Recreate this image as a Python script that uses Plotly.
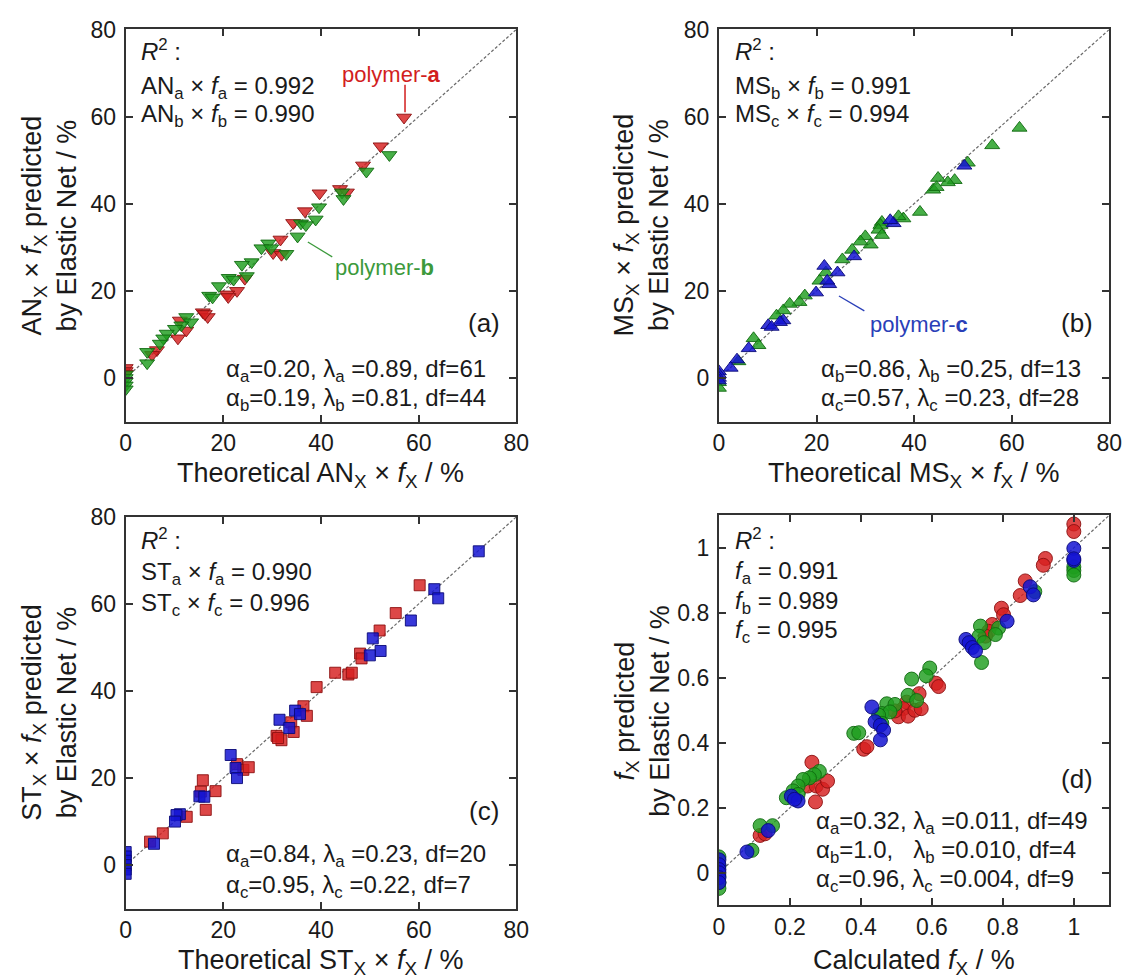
import plotly.graph_objects as go

W, H = 1141, 980

# ---------------- data ----------------
# (a) AN x f
AN_a_x = [57.0, 52.2, 48.6, 43.9, 45.3, 39.7, 36.7, 34.3, 31.7, 30.2, 31.9, 24.4, 22.8, 20.8, 21.0, 15.8, 16.8, 16.2, 11.1, 12.4, 10.7, 6.4, 5.4, 0, 0, 0]
AN_a_y = [59.8, 53.2, 48.8, 43.4, 42.6, 42.4, 38.3, 35.6, 31.8, 28.7, 28.3, 22.8, 20.0, 19.2, 18.6, 15.1, 14.0, 14.7, 13.2, 10.9, 9.1, 6.4, 5.3, 2.3, 1.6, 1.0]
AN_b_x = [54.0, 49.3, 44.3, 44.6, 39.6, 38.9, 35.9, 36.9, 35.2, 32.9, 29.2, 27.8, 29.8, 25.8, 23.8, 24.8, 21.1, 22.1, 19.1, 17.1, 17.8, 12.4, 13.4, 11.4, 10.1, 8.4, 7.7, 7.0, 4.4, 4.4, 0, 0, 0, 0, 0]
AN_b_y = [51.2, 47.4, 42.6, 41.1, 39.2, 36.4, 35.5, 35.1, 32.5, 28.5, 30.9, 29.8, 29.8, 26.6, 26.0, 23.4, 23.0, 22.6, 21.1, 18.9, 18.5, 14.0, 12.8, 12.1, 11.3, 10.2, 9.1, 7.9, 6.0, 3.4, 0.8, 0.0, -0.8, -1.7, -2.6]

# (b) MS x f
MS_b_x = [61.6, 56.0, 51.0, 48.3, 46.9, 44.9, 43.9, 44.6, 41.2, 37.8, 36.8, 33.4, 33.1, 32.7, 33.4, 30.0, 31.1, 29.0, 27.3, 25.3, 21.9, 20.6, 17.6, 16.5, 14.5, 13.2, 11.8, 7.1, 8.1, 4.0, 0, 0]
MS_b_y = [57.4, 53.4, 49.4, 45.4, 44.9, 45.9, 43.2, 43.8, 38.1, 36.6, 37.1, 35.8, 35.1, 34.0, 32.8, 32.5, 30.6, 31.3, 29.4, 27.2, 24.2, 22.3, 18.9, 17.4, 17.0, 15.5, 14.3, 9.1, 7.5, 3.8, -1.0, -2.3]
MS_c_x = [50.3, 35.8, 35.1, 27.7, 24.3, 21.6, 22.6, 22.2, 19.9, 13.2, 12.5, 10.1, 10.8, 6.1, 3.7, 2.4, 0, 0, 0, 0]
MS_c_y = [48.7, 35.5, 36.2, 27.9, 24.2, 25.7, 21.5, 22.3, 19.6, 13.2, 12.8, 12.1, 11.7, 6.8, 4.2, 2.3, 1.5, 0.8, 0.0, -0.6]

# (c) ST x f
ST_a_x = [60.2, 55.3, 52.0, 48.0, 48.3, 42.9, 45.6, 46.3, 39.1, 36.4, 37.1, 33.9, 34.4, 30.9, 31.9, 31.2, 22.8, 24.1, 25.2, 15.8, 15.4, 18.4, 16.4, 12.5, 7.6, 5.0]
ST_a_y = [64.3, 57.9, 53.9, 48.6, 47.5, 44.2, 43.8, 44.2, 40.9, 36.5, 34.3, 32.8, 30.6, 29.7, 28.7, 29.2, 23.2, 21.9, 22.5, 19.5, 16.9, 17.0, 12.7, 11.1, 7.3, 5.4]
ST_c_x = [72.3, 63.2, 64.0, 58.4, 50.6, 52.2, 50.0, 34.7, 35.7, 31.5, 33.5, 21.5, 22.5, 22.8, 15.1, 16.1, 11.1, 10.4, 10.1, 5.8, 0, 0, 0, 0, 0, 0]
ST_c_y = [72.1, 63.4, 61.3, 56.2, 52.1, 49.2, 48.2, 35.5, 34.7, 33.4, 31.5, 25.3, 22.3, 20.0, 15.8, 15.7, 11.7, 11.5, 10.0, 4.9, 3.0, 2.0, 1.0, 0.0, -1.0, -2.0]

# (d) f
F_a_x = [1, 1, 0.92, 0.914, 0.863, 0.849, 0.796, 0.802, 0.77, 0.76, 0.751, 0.612, 0.619, 0.564, 0.529, 0.519, 0.506, 0.533, 0.496, 0.552, 0.57, 0.408, 0.417, 0.262, 0.25, 0.274, 0.292, 0.306, 0.272, 0.116, 0.13]
F_a_y = [1.073, 1.05, 0.967, 0.946, 0.898, 0.853, 0.814, 0.794, 0.764, 0.743, 0.728, 0.583, 0.573, 0.551, 0.525, 0.505, 0.48, 0.482, 0.498, 0.5, 0.505, 0.38, 0.388, 0.34, 0.267, 0.267, 0.257, 0.282, 0.218, 0.115, 0.12]
F_b_x = [1, 1, 1, 0.89, 0.788, 0.779, 0.737, 0.733, 0.747, 0.74, 0.594, 0.584, 0.543, 0.533, 0.557, 0.473, 0.496, 0.459, 0.482, 0.45, 0.459, 0.38, 0.394, 0.283, 0.269, 0.255, 0.237, 0.223, 0.209, 0.19, 0.223, 0.151, 0.116, 0.093, 0, 0, 0, 0, 0]
F_b_y = [0.941, 0.93, 0.916, 0.865, 0.753, 0.733, 0.759, 0.728, 0.708, 0.647, 0.63, 0.606, 0.596, 0.546, 0.53, 0.52, 0.518, 0.49, 0.495, 0.485, 0.46, 0.429, 0.431, 0.312, 0.302, 0.292, 0.287, 0.267, 0.252, 0.231, 0.241, 0.145, 0.145, 0.069, 0.049, 0.02, -0.01, -0.03, -0.048]
F_c_x = [1, 1, 1, 0.877, 0.886, 0.812, 0.696, 0.705, 0.714, 0.723, 0.431, 0.44, 0.455, 0.464, 0.455, 0.204, 0.223, 0.213, 0.139, 0.079, 0, 0, 0, 0, 0, 0]
F_c_y = [0.998, 0.961, 0.966, 0.88, 0.855, 0.774, 0.718, 0.708, 0.693, 0.683, 0.51, 0.465, 0.454, 0.439, 0.409, 0.236, 0.221, 0.226, 0.13, 0.064, 0.04, 0.025, 0.01, 0.0, -0.015, -0.03]

DIAG_PCT = [0, 80]
DIAG_FRAC = [0, 1.1]
TICKS_PCT = [0, 20, 40, 60, 80]
TICKS_FRAC = [0, 0.2, 0.4, 0.6, 0.8, 1]

# ---------------- style ----------------
FONT = "Liberation Sans, Arial, sans-serif"
RED = dict(color="rgba(214,30,30,0.82)", line=dict(color="rgba(140,15,15,0.9)", width=1))
GREEN = dict(color="rgba(30,158,30,0.82)", line=dict(color="rgba(15,105,15,0.9)", width=1))
BLUE = dict(color="rgba(20,20,210,0.85)", line=dict(color="rgba(10,10,120,0.9)", width=1))


def px2paper(px, py):
    return px / W, 1 - py / H


# panel rectangles in pixels (x0, y0, x1, y1)
PANELS = {
    "": (121.7, 16.7, 519.0, 414.0),
    "2": (725.0, 16.7, 1122.0, 414.0),
    "3": (121.7, 510.7, 519.0, 907.7),
    "4": (725.0, 509.0, 1122.0, 904.3),
}

fig = go.Figure()


def diag(ax, vals):
    fig.add_trace(go.Scatter(x=vals, y=vals, mode="lines", xaxis="x" + ax, yaxis="y" + ax,
                             line=dict(color="#6a6a6a", width=1.2, dash="3px,2px"),
                             showlegend=False, hoverinfo="skip"))


def pts(ax, x, y, symbol, size, style):
    fig.add_trace(go.Scatter(x=x, y=y, mode="markers", xaxis="x" + ax, yaxis="y" + ax,
                             marker=dict(symbol=symbol, size=size, **style), showlegend=False))


diag("", DIAG_PCT)
pts("", AN_a_x, AN_a_y, "triangle-down", 13, RED)
pts("", AN_b_x, AN_b_y, "triangle-down", 13, GREEN)

diag("2", DIAG_PCT)
pts("2", MS_b_x, MS_b_y, "triangle-up", 13, GREEN)
pts("2", MS_c_x, MS_c_y, "triangle-up", 13, BLUE)

diag("3", DIAG_PCT)
pts("3", ST_a_x, ST_a_y, "square", 11, RED)
pts("3", ST_c_x, ST_c_y, "square", 11, BLUE)

diag("4", DIAG_FRAC)
pts("4", F_a_x, F_a_y, "circle", 14, RED)
pts("4", F_b_x, F_b_y, "circle", 14, GREEN)
pts("4", F_c_x, F_c_y, "circle", 14, BLUE)

axis_common = dict(showline=True, linecolor="#333", linewidth=2, mirror="ticks",
                   ticks="inside", ticklen=7, tickwidth=1.5, tickcolor="#333",
                   showgrid=False, zeroline=False,
                   tickfont=dict(family=FONT, size=23, color="#1a1a1a"))

layout = {}
for ax, (x0, y0, x1, y1) in PANELS.items():
    xd = [x0 / W, x1 / W]
    yd = [1 - y1 / H, 1 - y0 / H]
    if ax == "4":
        xr, yr, tv = [0, 1.1], [-0.1, 1.1], TICKS_FRAC
    else:
        xr, yr, tv = [0, 80], [-10, 80], TICKS_PCT
    layout["xaxis" + ax] = dict(domain=xd, range=xr, tickvals=tv, anchor="y" + ax, **axis_common)
    layout["yaxis" + ax] = dict(domain=yd, range=yr, tickvals=tv, anchor="x" + ax,
                                ticklabelstandoff=3, **axis_common)

fig.update_layout(**layout)

annotations = []


def txt(px, py, text, size=24, color="#1a1a1a", xanchor="left", angle=0):
    x, y = px2paper(px, py)
    annotations.append(dict(x=x, y=y, xref="paper", yref="paper", text=text, showarrow=False,
                            xanchor=xanchor, yanchor="middle", textangle=angle,
                            font=dict(family=FONT, size=size, color=color)))


R2 = "<i>R</i><sup>2</sup> :"
NB = "\u00a0"

# panel (a)
txt(135, 38, R2)
txt(135, 75, "AN<sub>a</sub> × <i>f</i><sub>a</sub> = 0.992")
txt(135, 104, "AN<sub>b</sub> × <i>f</i><sub>b</sub> = 0.990")
txt(340, 62, "polymer-<b>a</b>", size=22, color="#d21e1e")
txt(333, 258, "polymer-<b>b</b>", size=22, color="#3c9a3c")
txt(504, 314, "(a)", size=26, xanchor="right")
txt(222, 362, "α<sub>a</sub>=0.20, λ<sub>a</sub> =0.89, df=61")
txt(222, 392, "α<sub>b</sub>=0.19, λ<sub>b</sub> =0.81, df=44")

# panel (b)
txt(739, 38, R2)
txt(739, 75, "MS<sub>b</sub> × <i>f</i><sub>b</sub> = 0.991")
txt(739, 104, "MS<sub>c</sub> × <i>f</i><sub>c</sub> = 0.994")
txt(877, 316, "polymer-<b>c</b>", size=22, color="#2a3fb8")
txt(1107, 314, "(b)", size=26, xanchor="right")
txt(827, 362, "α<sub>b</sub>=0.86, λ<sub>b</sub> =0.25, df=13")
txt(827, 392, "α<sub>c</sub>=0.57, λ<sub>c</sub> =0.23, df=28")

# panel (c)
txt(135, 533, R2)
txt(135, 568, "ST<sub>a</sub> × <i>f</i><sub>a</sub> = 0.990")
txt(135, 599, "ST<sub>c</sub> × <i>f</i><sub>c</sub> = 0.996")
txt(503, 809, "(c)", size=26, xanchor="right")
txt(222, 854, "α<sub>a</sub>=0.84, λ<sub>a</sub> =0.23, df=20")
txt(222, 885, "α<sub>c</sub>=0.95, λ<sub>c</sub> =0.22, df=7")

# panel (d)
txt(739, 533, R2)
txt(739, 567, "<i>f</i><sub>a</sub> = 0.991")
txt(739, 597, "<i>f</i><sub>b</sub> = 0.989")
txt(739, 627, "<i>f</i><sub>c</sub> = 0.995")
txt(1107, 776, "(d)", size=26, xanchor="right")
txt(822, 820, "α<sub>a</sub>=0.32, λ<sub>a</sub> =0.011, df=49")
txt(822, 850, "α<sub>b</sub>=1.0," + NB * 3 + "λ<sub>b</sub> =0.010, df=4")
txt(822, 879, "α<sub>c</sub>=0.96, λ<sub>c</sub> =0.004, df=9")

# axis titles
txt(320, 468, "Theoretical AN<sub>X</sub> × <i>f</i><sub>X</sub> / %", size=27, xanchor="center")
txt(923, 468, "Theoretical MS<sub>X</sub> × <i>f</i><sub>X</sub> / %", size=27, xanchor="center")
txt(320, 962, "Theoretical ST<sub>X</sub> × <i>f</i><sub>X</sub> / %", size=27, xanchor="center")
txt(923, 962, "Calculated <i>f</i><sub>X</sub> / %", size=27, xanchor="center")

txt(44, 215, "AN<sub>X</sub> × <i>f</i><sub>X</sub> predicted<br>by Elastic Net / %", size=27, xanchor="center", angle=-90)
txt(646, 215, "MS<sub>X</sub> × <i>f</i><sub>X</sub> predicted<br>by Elastic Net / %", size=27, xanchor="center", angle=-90)
txt(44, 709, "ST<sub>X</sub> × <i>f</i><sub>X</sub> predicted<br>by Elastic Net / %", size=27, xanchor="center", angle=-90)
txt(647, 707, "<i>f</i><sub>X</sub> predicted<br>by Elastic Net / %", size=27, xanchor="center", angle=-90)

shapes = [
    dict(type="line", xref="x", yref="y", x0=57.2, y0=67.3, x1=57.2, y1=61.0,
         line=dict(color="#d21e1e", width=1.5)),
    dict(type="line", xref="x", yref="y", x0=37.3, y0=31.2, x1=42.3, y1=27.8,
         line=dict(color="#3c9a3c", width=1.3)),
    dict(type="line", xref="x2", yref="y2", x0=24.6, y0=18.8, x1=29.8, y1=15.4,
         line=dict(color="#2a3fb8", width=1.3)),
]

fig.update_layout(width=W, height=H, margin=dict(l=0, r=0, t=0, b=0),
                  paper_bgcolor="white", plot_bgcolor="white",
                  annotations=annotations, shapes=shapes, showlegend=False)

fig.write_html("out.html")
